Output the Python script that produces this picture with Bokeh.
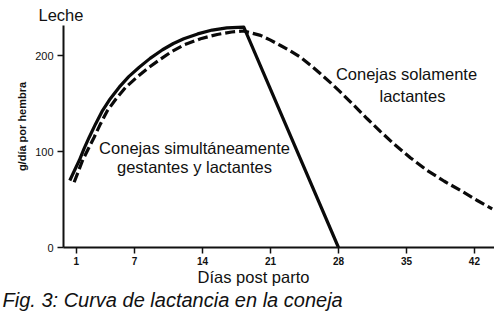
from bokeh.plotting import figure
from bokeh.models import FixedTicker, Label
from bokeh.embed import file_html
from bokeh.resources import INLINE
import math

# ---- data ----
solid_days = [0.33, 0.8, 1.30, 1.8, 2.33, 3.0, 3.70, 4.5, 5.42, 6.4, 7.48, 8.6, 9.88,
              11.0, 12.07, 13.5, 15.0, 16.5, 18.25, 28.0]
solid_vals = [69.8, 80.0, 90.6, 103.0, 114.9, 129.0, 142.7, 155.0, 167.0, 178.0, 187.8,
              197.0, 206.0, 212.5, 217.4, 222.5, 226.5, 228.7, 229.5, 0.0]

dash_days = [0.78, 1.2, 1.64, 2.2, 2.84, 3.5, 4.21, 5.1, 6.10, 7.2, 8.33, 9.5, 10.8,
             12.07, 13.8, 15.51, 17.0, 18.25, 19.97, 21.0, 22.03, 23.0, 24.09, 25.1,
             26.15, 27.2, 28.21, 29.6, 30.96, 32.3, 33.70, 35.4, 37.14, 38.9, 40.57,
             42.2, 43.83]
dash_vals = [68.0, 79.0, 90.6, 102.0, 114.9, 129.0, 142.7, 155.0, 167.0, 177.0, 186.5,
             195.0, 204.0, 211.0, 217.5, 221.9, 224.5, 225.5, 221.0, 216.0, 210.4, 205.0,
             198.2, 190.0, 180.9, 171.5, 161.8, 148.0, 134.1, 121.0, 108.0, 93.5, 80.2,
             69.0, 59.4, 49.5, 40.3]

x_ticks = [1, 7, 14, 21, 28, 35, 42]
y_ticks = [0, 100, 200]

title_text = "Leche"
y_label = "g/día por hembra"
x_label = "Días post parto"
caption = "Fig. 3: Curva de lactancia en la coneja"
label_solid = ["Conejas simultáneamente", "gestantes y lactantes"]
label_dash = ["Conejas solamente", "lactantes"]

# ---- layout: frame covers the whole canvas, axes sit at fixed locations ----
W, H = 494, 312
PX0, PXS = 66.1, 9.71      # pixel of day 0, pixels per day
PY0, PYS = 247.0, 0.96     # pixel of value 0, pixels per unit
AX_LEFT, AX_TOP = 63, 25   # where the axis lines begin
FONT = "Liberation Sans"


def to_data(px, py):
    return (px - PX0) / PXS, (PY0 - py) / PYS


x_lo, y_hi = to_data(0, 0)
x_hi, y_lo = to_data(W, H)
ax_x, ax_ytop = to_data(AX_LEFT, AX_TOP)

p = figure(width=W, height=H, x_range=(x_lo, x_hi), y_range=(y_lo, y_hi),
           toolbar_location=None, output_backend="svg",
           min_border=0, min_border_left=0, min_border_right=0,
           min_border_top=0, min_border_bottom=0)
p.outline_line_color = None
p.xgrid.visible = False
p.ygrid.visible = False
p.background_fill_color = "white"
p.border_fill_color = "white"

xa, ya = p.xaxis[0], p.yaxis[0]
xa.fixed_location = 0
ya.fixed_location = ax_x
xa.bounds = (ax_x, x_hi)
ya.bounds = (0, ax_ytop)

for ax in (xa, ya):
    ax.axis_line_width = 2
    ax.axis_line_color = "#111111"
    ax.major_tick_line_color = "#111111"
    ax.major_tick_line_width = 1.5
    ax.major_tick_out = 6
    ax.major_tick_in = 0
    ax.minor_tick_line_color = None
    ax.major_label_text_font = FONT
    ax.major_label_text_color = "#111111"

xa.ticker = FixedTicker(ticks=x_ticks)
ya.ticker = FixedTicker(ticks=y_ticks)
xa.major_label_text_font_size = "10px"
xa.major_label_text_font_style = "bold"
xa.major_label_standoff = 3
ya.major_label_text_font_size = "11px"
ya.major_label_standoff = 4

p.line(solid_days, solid_vals, line_color="#0a0a0a", line_width=3.2, line_join="round")
p.line(dash_days, dash_vals, line_color="#0a0a0a", line_width=3.2, line_dash="10 4")


def add_text(text, px, py, size, align="left", baseline="alphabetic", angle=0.0,
             style="normal"):
    x, y = to_data(px, py)
    p.add_layout(Label(x=x, y=y, text=text, text_font=FONT, text_font_size=size,
                       text_align=align, text_baseline=baseline, angle=angle,
                       text_color="#111111", text_font_style=style))


add_text(title_text, 38, 14, "16.5px")
add_text(y_label, 21, 126, "11px", align="center", baseline="middle",
         angle=math.pi / 2, style="bold")
add_text(x_label, 253, 276, "16.5px", align="center")
add_text(caption, 2, 299, "20px", style="italic")
add_text(label_solid[0], 194, 147, "16.5px", align="center")
add_text(label_solid[1], 194, 166, "16.5px", align="center")
add_text(label_dash[0], 406, 73, "16.5px", align="center")
add_text(label_dash[1], 412, 95, "16.5px", align="center")

open("out.html", "w").write(file_html(p, INLINE))
